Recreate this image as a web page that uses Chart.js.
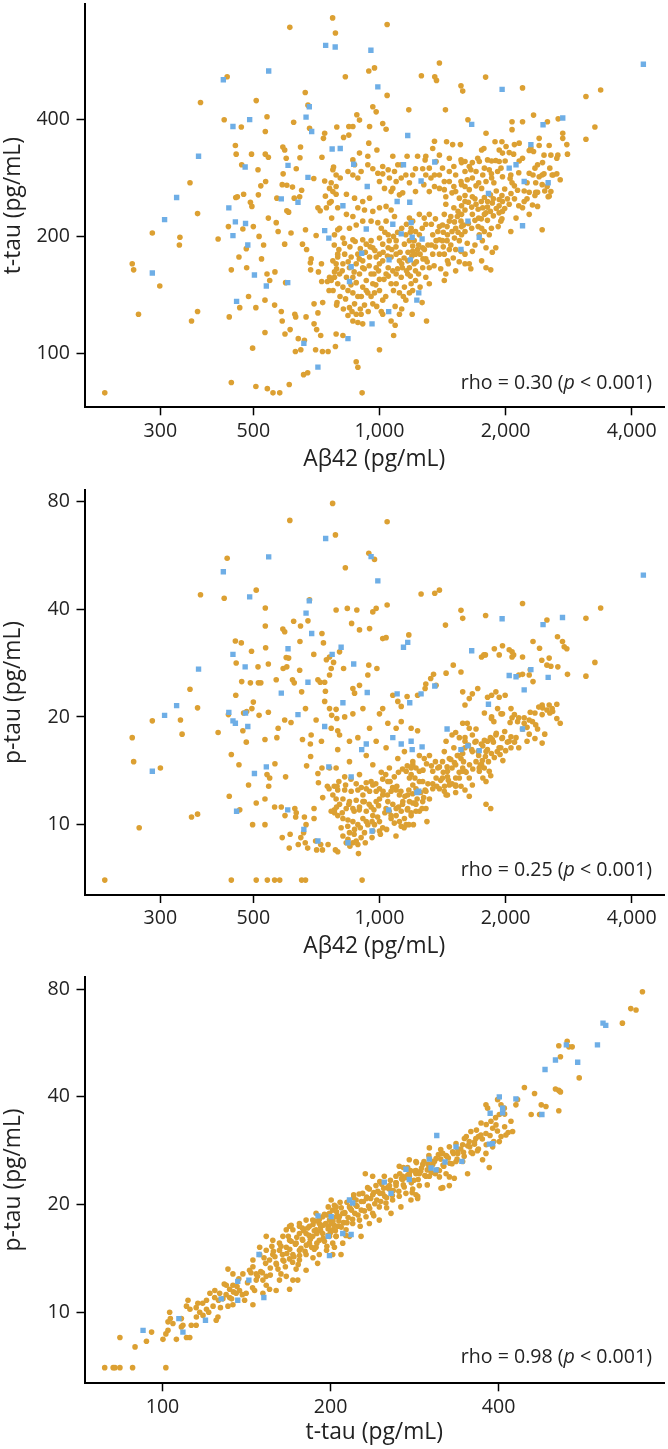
<!DOCTYPE html>
<html>
<head>
<meta charset="utf-8">
<script src="https://cdn.jsdelivr.net/npm/chart.js@4.4.1/dist/chart.umd.min.js"></script>
<style>
  html, body { margin: 0; padding: 0; background: #fff; }
  canvas { position: absolute; left: 0; display: block; }
</style>
</head>
<body>
<canvas id="c1" width="668" height="475" style="top:0"></canvas>
<canvas id="c2" width="668" height="485" style="top:475px"></canvas>
<canvas id="c3" width="668" height="489" style="top:960px"></canvas>
<script>
// tick values and labels
const abetaTicks = [300, 500, 1000, 2000, 4000];
const ttauTicks = [100, 200, 400];
const ptauTicks = [10, 20, 40, 80];
const rhoValues = ['0.30', '0.25', '0.98'];
const pText = '< 0.001';

// panel 1: Abeta42 vs t-tau  [Abeta42, t-tau]
const p1Orange = [
[221,79],[257,170],[259,164],[266,126],[287,204],[299,149],[334,199],[333,190],[353,275],[356,121],[368,229],[368,128],[374,443],[412,197],[426,400],[433,516],[436,212],[438,124],[443,164],[443,84],[453,343],[455,326],[454,252],[458,253],[462,177],[464,131],[468,383],[469,306],[472,209],[474,257],[481,186],[482,166],[487,140],[492,245],[496,239],[495,326],[498,103],[500,212],[507,82],[507,131],[508,448],[513,297],[514,256],[516,200],[521,270],[523,175],[529,190],[533,137],[533,113],[534,373],[534,326],[535,277],[539,407],[539,160],[540,81],[543,320],[543,223],[547,154],[557,79],[578,79],[562,133],[563,162],[567,217],[569,251],[573,206],[583,128],[586,121],[586,272],[588,340],[594,334],[589,290],[594,191],[595,112],[597,152],[599,318],[601,271],[601,233],[607,231],[609,83],[611,692],[612,115],[615,204],[620,268],[624,394],[626,251],[628,126],[630,101],[631,124],[633,299],[640,109],[645,253],[646,319],[648,340],[649,102],[652,263],[655,191],[659,88],[662,108],[665,470],[666,208],[668,124],[670,185],[674,89],[675,436],[681,380],[684,171],[685,164],[687,175],[697,282],[698,134],[698,119],[704,102],[706,201],[713,237],[708,115],[713,127],[715,162],[722,233],[724,111],[727,170],[728,153],[729,320],[731,101],[732,135],[735,358],[740,369],[740,278],[743,254],[747,237],[751,153],[754,101],[758,145],[760,266],[760,244],[760,157],[767,275],[769,223],[773,732],[777,302],[781,162],[785,669],[785,104],[788,257],[791,383],[792,135],[795,208],[795,177],
[1043,704],[943,534],[973,544],[829,516],[1043,462],[1390,560],[1259,519],[1355,516],[1368,505],[1792,515],[1565,489],[1580,474],[2195,483],[3110,459],[3372,477],[3267,383],[3110,356],[1175,424],[1437,424],[964,432],[982,419],[883,412],[896,399],[1018,391],[1037,378],[947,384],[845,384],[864,384],[845,365],[1626,400],[2332,411],[2517,395],[2195,395],[2072,395],[2072,377],[2670,402],[2738,369],[2738,358],[2800,345],[2810,326],[2665,324],[2565,324],[2470,324],[2405,358],[2541,343],[2405,343],[2298,338],[2332,331],[2277,333],[2195,318],[2155,313],[1960,351],[1887,351],[1796,369],[1931,334],[2040,329],[2090,326],[1753,334],[1775,337],[1446,351],[1495,345],[1560,345],[1353,352],[1340,337],[1290,322],[1285,315],[1365,312],[1233,322],[1164,322],[1106,306],[1127,306],[1076,322],[1018,290],[896,328],[864,315],[872,306],[943,348],[986,334],[938,322],[821,360],
[1570,310],[1666,310],[1716,318],[1638,303],[1600,294],[1811,315],[1852,313],[1895,314],[1931,312],[1995,313],[1914,294],[1966,285],[1852,283],[1875,275],[2058,288],[2072,275],[2099,270],[2136,263],[2215,262],[2277,260],[2360,260],[2445,288],[2583,288],[2513,269],[2541,254],[2360,275],[2445,272],[2195,237],[2318,241],[2384,239],[2215,246],
[2040,242],[1966,246],[1931,249],[1859,244],[1811,246],[1764,237],[1796,230],[1700,242],[1666,253],[1638,264],[1570,272],[1520,261],[1490,259],[1551,251],[1600,246],[1600,234],[1570,228],[1534,225],[1505,237],[1315,300],[1390,324],[1414,300],[1468,318],
[1000,277],[1028,266],[1066,261],[1116,256],[1136,259],[1219,261],[1276,272],[1315,261],[1353,269],[1390,266],[1428,264],[1440,253],
[947,251],[912,246],[872,251],[834,257],[788,269],[774,261],[767,246],[795,237],[834,228],[864,225],[888,237],[921,234],[964,232],[1000,237],[1037,239],[1066,234],[1086,225],[1037,219],[991,217],[955,219],[912,219],[880,214],[848,210],[803,210],[781,202],[818,198],[864,196],[912,196],[955,195],[1000,198],[1049,202],[1096,195],[1147,191],[1200,189],[1233,185],
[1315,228],[1279,223],[1245,228],[1200,219],[1219,206],[1245,202],[1268,187],[1290,175],[1315,166],[1340,180],[1390,180],[1428,180],[1453,173],[1468,185],[1520,185],[1565,183],[1600,180],[1638,170],[1652,165],[1796,166],[1843,164],[1666,183],[1731,202],[1796,187],[1828,202],[1779,206],[1753,210],[1725,223],[1666,228],[1587,214],[1565,219],[1520,210],[1490,206],[1453,202],[1414,195],[1365,195],[1340,202],[1378,206],[1414,214],[1468,219],[1428,228],[1440,242],[1570,202],[1551,195],
[1179,223],[1190,210],[1156,202],[1179,195],[1200,183],[1219,180],[1168,173],[1179,166],[1219,163],[1268,166],[1290,157],[1219,154],[1190,151],[1168,160],[1134,166],[1116,173],[1096,180],[1066,177],[1049,187],[1018,191],[1000,180],[1018,173],[1049,166],[1076,163],[1096,160],[1127,157],[1147,148],[1156,137],[1116,143],[1096,151],[1066,151],[1037,160],[1000,170],[982,166],[955,160],[964,151],[930,154],[912,148],[938,143],[973,143],[1000,145],[1018,137],[964,134],[921,133],[904,126],[888,120],[864,121],[841,125],[848,131],[872,134],[888,140],[864,143],[841,145],[818,148],[795,151],[781,157],[767,154],[803,160],[834,157],[864,157],[896,160],[912,166],[880,170],[848,166],[818,170],[788,170],[912,173],[947,177],[982,177],[964,187],[930,191],[888,180],[856,177],[826,180],[795,180],[774,173],
[788,112],[818,111],[880,95],[888,92],[909,79],[1000,102],[1081,111],[1295,121],[1264,135],[1197,126],[1116,126],[1066,121],[1018,126],[912,119],[880,126],[1179,143],[1315,151],[1440,160],[1428,154],[1600,170],[1520,163],[1859,182],[1895,187],[1753,173],
[1966,232],[1948,219],[2058,206],[2118,223],[2277,228],[2445,208],[2405,285],[2527,253],[2565,261],[2384,260],[2277,291],[2325,288],[2470,290],[2598,288],[2384,306],[2099,345],[2155,348],[1966,328],[2005,341],
[1731,312],[1700,294],[1764,288],[1828,297],[1796,277],[1753,266],[1725,275],[1666,283],[1652,297],[1600,312],[1565,315],[1505,303],[1468,294],[1520,288],[1565,277],[1600,269],[1505,269],[1468,277],[1428,277],[1390,288],[1353,288],[1327,283],[1290,288],[1268,299],[1219,299],[1200,288],[1179,275],[1156,288],[1127,283],[1096,277],[1076,266],[1056,283],[1086,294],[1049,297],[1018,303],[991,291],[964,299],[938,306],[904,294],[888,283],[864,288],[841,294],[806,283],[788,288],[774,297],
[780,190],[800,185],[825,192],[850,188],[875,194],[900,186],[925,182],[950,188],[975,184],[790,165],[815,163],[842,172],[870,162],[895,175],[920,165],[945,168],[970,160],[995,163],[805,140],[830,138],[855,150],[880,152],[905,140],[930,145],[955,140],[980,150],[1000,155],[820,130],[860,128],[900,130],[940,128],[985,132],[1010,128],[775,145],[790,133],
[1010,210],[1030,205],[1055,195],[1080,200],[1105,205],[1130,210],[1160,215],[1185,205],[1210,195],[1240,190],[1265,210],[1290,215],[1020,182],[1045,178],[1070,185],[1095,188],[1120,182],[1145,176],[1170,182],[1195,178],[1225,172],[1250,180],[1280,185],[1305,190],[1025,155],[1050,158],[1080,145],[1105,165],[1130,170],[1160,163],[1185,158],[1210,170],[1240,160],[1270,175],[1300,172],[1035,140],[1090,132],[1140,140],[1200,145],[1250,148],[1090,118],[1130,130],
[1330,215],[1360,222],[1390,212],[1420,205],[1450,212],[1480,225],[1510,218],[1540,232],[1570,240],[1600,255],[1630,245],[1660,238],[1690,250],[1720,235],[1750,246],[1780,252],[1810,238],[1840,256],[1870,250],[1900,262],[1930,240],[1960,255],[1990,265],[2020,250],[2060,258],[2100,250],[1330,190],[1360,188],[1390,196],[1420,188],[1450,195],[1480,190],[1510,198],[1540,205],[1570,212],[1600,206],[1630,216],[1660,210],[1690,220],[1720,212],[1750,222],[1780,228],[1810,220],[1840,232],[1870,226],[1900,236],[1930,230],[1960,222],[1990,236],[1350,168],[1400,165],[1460,170],[1500,176],[1550,172],[1620,192],[1690,190],[1760,195],[1850,210],[1920,212],
[1620,280],[1700,270],[1780,300],[1850,290],[1950,300],[2050,282],[2150,292],[2250,275],[2350,300],[2450,310],[2550,300],[2650,290],[2250,250],[2350,255],[2480,262],[2150,240],[2650,318],[2700,280]
];
const p1Blue = [
[424,507],[447,384],[490,400],[544,534],[744,622],[784,616],[370,322],[478,302],[328,252],[307,221],[287,161],[437,237],[453,218],[479,216],[447,201],[485,190],[503,159],[537,149],[456,136],[583,250],[605,305],[639,245],[675,284],[680,432],[668,406],[689,373],[771,336],[740,207],[757,198],[604,152],[660,106],[713,92],[806,337],
[954,604],[991,486],[1962,479],[4264,556],[2738,404],[2457,388],[1660,389],[1168,364],[2298,345],[2118,306],[2040,300],[2215,277],[2527,275],[1355,311],[1141,306],[1257,278],[935,269],[868,307],[818,240],[1102,246],[1181,245],[1820,258],[2195,213],[1626,219],[1730,199],[1565,185],[1076,215],[1127,203],[1190,217],[1264,197],[1197,199],[930,209],[907,181],[1185,174],[1054,174],[856,167],[848,153],[1241,143],[1228,137],[1052,128],[960,119],[841,109]
];

// panel 2: Abeta42 vs p-tau  [Abeta42, p-tau]
const p2Orange = [
[221,7],[257,17.5],[259,15],[267,9.8],[287,19.5],[300,14.4],[335,19.6],[338,17.9],[353,23.9],[356,10.5],[368,21.2],[368,10.7],[374,43.9],[412,18.1],[426,42.9],[433,55.5],[436,20.3],[438,12],[443,15.7],[443,7],[453,32.6],[455,28.3],[454,23],[462,14.7],[464,11],[468,32.2],[469,25.1],[472,18.3],[474,20.5],[481,17],[482,20.7],[487,12.9],[492,24.9],[496,21.1],[495,30.5],[498,10],[500,22],[508,7],[508,11.5],[508,45.2],[513,27.6],[514,24.9],[516,20.2],[521,24.9],[533,17.3],[533,11.8],[533,10],[534,40.3],[534,35.9],[535,31.2],[539,13.8],[547,13.5],[540,7],[562,7],[578,7],[652,7],[666,7],[543,28.1],[543,20.6],[544,12.8],[562,11.2],[563,14.8],[567,25.4],[569,17.5],[573,18.6],[583,11.2],[586,9.2],[588,35.2],[594,34.6],[589,27.3],[594,19.6],[595,10.6],[597,13.6],[599,29.3],[601,27.6],[607,29.2],[609,8.6],[611,70.8],[612,9.4],[615,19.3],[620,25.4],[624,37],[626,24.9],[628,11.1],[631,10.5],[633,10.8],[640,8.8],[645,27],[646,32.5],[648,35.9],[649,9.2],[652,23.5],[655,17.3],[659,9.5],[662,10.5],[665,8.9],[666,21.1],[668,10],[670,14.6],[674,8.6],[675,37.1],[681,42.5],[684,16.8],[685,15.5],[687,17.8],[697,29.9],[698,11.1],[698,10.4],[704,9],[706,19.6],[713,25.4],[708,8.5],[713,13.9],[715,13.1],[722,25],[724,8.8],[727,17.1],[729,14.4],[729,34.2],[731,8.5],[732,11.9],[735,32.2],[740,22.1],[740,25],[743,23.6],[747,28.9],[751,12.8],[754,8.8],[758,12.6],[760,26.2],[760,21.1],[760,14.4],[767,27.3],[769,20.2],[773,79],[777,28.4],[781,10.8],[785,64.5],[785,8.5],[788,39.8],[791,19.8],[792,12.8],[795,18.3],[795,16.2],
[1043,70.2],[943,57.3],[973,55.1],[829,52.2],[1043,41.1],[1390,45.2],[1355,44.3],[1257,44.1],[1792,38.4],[1565,39.7],[1580,37.7],[2195,41.5],[3110,37.7],[3372,40.3],[3267,28.4],[3110,26.0],[1175,33.9],[1437,36.1],[964,39.3],[982,40.2],[883,39.8],[838,40.2],[1018,33.1],[1037,33.3],[947,35.3],[896,35.0],[858,36.5],[803,30.4],[760,29.4],[2325,32.5],[2510,37.3],[2195,29.4],[2072,30.4],[2072,29.4],[2660,33.5],[2734,32.5],[2760,31.4],[2800,31.0],[2810,26.3],[2665,27.6],[2565,27.7],[2510,27.9],[2440,28.8],[2541,29.2],[2410,31.1],[2290,27.1],[2325,25.1],[2277,26.2],[2195,26.3],[2150,26.2],[2445,21.6],[2541,21.6],[2590,20.7],[2510,20.9],[2400,21.3],[2290,20.6],[1966,31.6],[1880,31.0],[1790,29.8],[1931,29.8],[2040,30.8],[2090,29.8],[1752,29.4],[1775,29.8],[1442,26.5],[1500,27.9],[1565,26.7],[1346,26.3],[1325,25.6],[1290,24.7],[1285,24.0],[1365,24.5],[1233,23.0],[1164,22.8],[1106,22.1],[1127,21.4],[1076,23.0],[1018,21.1],[896,24.5],[864,24.0],[872,23.3],[943,27.9],[986,27.3],[938,26.2],[821,27.3],
[1580,23.5],[1666,23.2],[1716,24.0],[1638,22.5],[1600,21.6],[1811,22.7],[1852,23.0],[1896,23.5],[1931,22.7],[1995,23.0],[1914,21.1],[1966,20.4],[1852,20.0],[1875,19.4],[2060,21.1],[2072,19.9],[2099,20.3],[2136,19.4],[2215,19.2],[2277,19.6],[2360,19.0],[2445,20.3],[2583,21.1],[2195,18.5],[2318,19.4],[2384,18.5],[2215,19.9],
[2040,17.1],[1966,17.5],[1896,17.8],[1859,17.3],[1811,17.1],[1764,16.6],[1796,16.0],[1700,17.1],[1666,17.8],[1638,18.6],[1580,19.2],[1520,18.1],[1490,17.8],[1551,17.5],[1600,17.1],[1600,16.4],[1580,15.8],[1534,15.6],[1505,16.4],
[1442,17.1],[1428,16.0],[1468,15.3],[1414,15.0],[1378,14.4],[1340,14.1],[1365,13.5],[1414,13.5],[1453,14.1],[1490,14.4],[1520,14.7],[1565,15.3],[1587,15.0],[1666,16.0],[1725,15.6],[1753,14.7],[1779,14.4],[1828,14.1],[1796,13.2],[1731,14.1],[1580,14.1],[1551,13.5],[1520,12.9],[1565,12.8],[1600,12.5],[1638,12.0],[1796,11.4],[1843,11.1],[1666,12.9],
[1316,15.6],[1279,15.3],[1245,15.6],[1201,15.0],[1222,14.4],[1245,14.1],[1268,13.2],[1291,12.4],[1316,11.8],[1340,12.6],[1390,12.6],[1428,12.4],[1453,12.1],[1468,12.9],[1520,12.8],[1201,14.7],[1190,14.4],[1158,14.1],[1179,13.5],[1201,12.9],[1222,12.6],[1168,12.1],[1179,11.6],[1222,11.4],[1268,11.6],[1291,11.1],[1222,10.9],[1190,10.6],[1168,11.1],[1137,11.6],[1116,12.1],[1096,12.5],[1066,12.4],[1047,13.2],[1018,13.4],[1000,12.6],[1018,12.1],[1047,11.6],[1076,11.4],[1096,11.1],[1127,10.9],[1147,10.4],[1158,10.0],[1116,10.2],[1096,10.6],[1066,10.6],[1037,11.1],[1000,11.8],[982,11.6],[955,11.2],[964,10.6],[930,10.9],[913,10.4],[938,10.0],[973,10.0],[1000,10.2],[1018,9.8],[964,9.6],[921,9.5],[904,9.2],[888,8.8],[864,8.9],[841,9.1],[848,9.5],[872,9.7],[888,10.0],[864,10.2],[841,10.3],[818,10.4],[795,10.6],[781,11.0],[767,10.9],[803,11.4],[833,11.1],[864,11.1],[896,11.2],[913,11.6],[880,11.7],[848,11.6],[818,11.8],[788,11.8],[913,12.1],[947,12.4],[982,12.4],[964,12.9],[930,13.1],[888,12.5],[856,12.4],[826,12.5],[795,12.5],[774,12.1],
[788,21.0],[826,20.0],[864,20.4],[913,21.1],[1000,20.4],[1047,19.2],[1096,18.6],[1127,19.4],[1190,18.6],[1233,18.3],[947,18.6],[888,17.5],[848,17.1],[803,17.8],[767,18.6],[982,17.1],[1037,16.4],[930,15.6],[848,15.0],[788,14.4],[1056,14.4],[964,14.7],[896,13.8],[826,13.6],[1106,15.3],[1147,16.0],
[795,8.4],[818,9.3],[833,8.9],[891,8.3],[909,7.0],[1000,9.6],[1127,9.9],[1175,10.0],[1298,10.2],[1264,11.1],[1201,11.5],[1066,10.4],[1442,12.1],[1520,12.3],[1453,13.6],[1765,13.5],[1843,13.7],[1638,13.5],[1600,14.1],[1740,14.7],
[2060,16.4],[2277,17.9],[2445,16.9],[1948,16.4],[2118,17.5],
[780,12.8],[800,13.2],[830,12.9],[855,13.4],[880,13.0],[905,12.7],[930,12.6],[955,13.2],[980,13.0],[790,11.2],[815,10.8],[845,11.4],[870,10.9],[895,11.0],[920,11.6],[945,11.4],[970,11.0],[995,11.3],[810,9.8],[840,9.9],[870,9.4],[900,9.8],[930,10.2],[960,10.2],[990,10.5],[850,8.7],[880,9.0],[925,8.9],[960,9.2],[1005,9.4],
[1010,14.0],[1035,13.8],[1060,13.2],[1085,13.6],[1110,14.0],[1135,14.3],[1165,14.6],[1190,13.8],[1215,13.5],[1245,13.2],[1270,14.2],[1295,14.8],[1020,12.4],[1045,12.1],[1075,12.7],[1100,12.8],[1125,12.4],[1150,12.0],[1175,12.5],[1200,12.2],[1230,11.8],[1255,12.3],[1285,12.5],[1305,13.0],[1030,10.8],[1055,10.9],[1085,10.1],[1110,11.2],[1135,11.4],[1165,11.0],[1190,10.8],[1215,11.5],[1245,10.9],[1275,11.9],[1040,9.7],[1095,9.3],[1145,9.8],[1205,10.0],
[1330,14.6],[1360,15.0],[1390,14.5],[1420,14.0],[1450,14.5],[1480,15.2],[1510,14.9],[1540,15.6],[1570,16.2],[1600,17.5],[1630,16.7],[1660,16.2],[1690,17.0],[1720,16.0],[1750,16.8],[1780,17.2],[1810,16.2],[1840,17.5],[1870,17.0],[1900,18.0],[1930,16.4],[1960,17.4],[1990,18.2],[2020,17.0],[2060,17.6],[2100,17.0],[1340,13.0],[1370,12.8],[1400,13.3],[1430,12.8],[1460,13.3],[1490,13.0],[1520,13.5],[1550,14.0],[1580,14.4],[1610,14.0],[1640,14.7],[1670,14.3],[1700,15.0],[1730,14.4],[1760,15.1],[1790,15.5],[1820,15.0],[1850,15.8],[1880,15.4],[1910,16.0],[1940,15.7],[1970,15.1],[2000,16.1],
[1620,19.2],[1700,18.5],[1780,20.5],[1850,19.8],[1950,20.4],[2050,19.3],[2150,19.9],[2250,18.7],[2350,20.5],[2450,21.2],[2550,20.5],[2650,19.8],[2250,17.1],[2350,17.4],[2480,17.9],[2150,16.4],[2650,21.7],[2700,19.2]
];
const p2Blue = [
[424,50.9],[447,29.9],[490,43.3],[544,56.0],[744,63.0],[370,27.2],[478,27.6],[328,21.5],[307,20.2],[287,14.1],[437,20.6],[453,19.2],[479,20.5],[447,19.5],[485,18.8],[503,13.9],[537,14.5],[456,10.9],[583,23.3],[605,31.0],[639,20.3],[675,25.0],[680,42.2],[668,39.0],[689,34.2],[771,29.9],[740,18.8],[757,14.5],[604,11.0],[660,9.7],[713,9.0],[810,31.3],
[955,56.1],[991,48.0],[1962,37.6],[4264,49.8],[2734,37.9],[2457,36.2],[1660,30.6],[1141,31.3],[1168,32.3],[2298,27.1],[2118,25.9],[2040,26.1],[2215,23.8],[2527,25.8],[1355,24.4],[1257,23.2],[1181,21.9],[1102,23.2],[935,23.4],[868,28.1],[818,21.9],[1820,21.7],[2195,18.5],[1450,18.5],[1730,16.1],[1626,16.6],[1565,16.2],[1076,17.5],[1127,16.8],[1190,17.1],[1264,16.5],[1197,16.2],[930,16.8],[907,16.2],[856,13.6],[1241,12.4],[1228,12.3],[1052,11.0],[960,9.6],[841,8.9]
];

// panel 3: t-tau vs p-tau  [t-tau, p-tau]
const p3Orange = [
[78.8,7],[81.6,7],[82.2,7],[83.9,7],[88.4,7],[101.4,7],[83.9,8.5],[89.3,8.0],[93.6,8.3],[95.6,8.8],
[100.2,8.4],[101.4,8.7],[102.3,8.9],[105.9,8.4],[108.1,9.1],[110.4,8.5],[111.9,8.5],[102.3,9.4],[104.4,9.3],[108.1,9.6],[103.0,10.0],[103.3,9.6],
[108.8,9.2],[112.6,9.2],[114.9,9.2],[116.6,10.0],[119.9,10.2],[123.2,10.4],[115.7,10.6],[111.1,10.8],[110.4,10.4],[114.9,10.3],[118.2,9.8],
[124.8,9.5],[125.7,9.7],[119.9,10.8],[121.6,11.3],[124.1,11.5],[126.6,11.3],[128.3,10.9],[131.0,10.4],[133.7,10.5],[131.9,11.0],[135.5,11.3],[137.4,11.5],[141.2,11.3],[145.2,10.5],[140.3,10.8],[133.7,11.9],[131.9,11.6],[130.1,11.9],
[131.0,13.2],[133.7,12.8],[139.3,12.8],[143.2,13.1],[147.2,12.8],[151.3,12.3],[153.4,11.9],[146.2,11.5],[151.3,11.3],[155.5,11.6],[159.8,11.5],[162.0,12.3],[166.6,12.6],[168.9,11.6],[171.2,12.3],[174.7,12.3],[153.4,12.6],[147.2,12.3],
[145.2,14.0],[149.3,14.5],[153.4,14.9],[157.6,14.5],[162.0,14.9],[155.5,14.0],[159.8,13.7],[164.3,14.0],[168.9,14.1],[171.2,14.5],[175.9,14.9],[180.8,14.5],[175.9,14.0],[166.6,15.2],[162.0,15.6],[157.6,15.9],[153.4,16.3],[149.3,15.2],[145.2,13.4],
[164.3,16.3],[168.9,15.9],[173.5,15.6],[178.3,15.9],[183.3,15.6],[188.4,15.2],[190.9,15.9],[185.8,16.3],[180.8,16.6],[175.9,16.6],[171.2,17.0],[166.6,17.0],[168.9,17.4],[175.9,17.4],[183.3,17.4],[188.4,17.0],[193.6,16.6],[199.1,16.3],[201.8,17.0],[198.1,17.4],[190.9,17.7],[185.8,18.1],[180.8,18.1],[175.9,17.7],[170.0,17.5],[188.4,18.9],[193.6,18.5],[199.1,18.1],[204.6,18.5],[201.8,19.3],[198.1,19.7],[203.2,19.9],[199.1,18.9],[206.0,17.4],[204.6,16.3],[201.8,15.6],[196.7,14.9],[190.9,14.5],[189.6,13.7],[180.8,13.1],[173.5,13.2],
[150,13.0],[152,14.2],[156,13.3],[158,14.8],[160,13.6],[163,15.3],[165,13.9],[167,14.6],[170,15.8],[172,14.3],[174,16.2],[177,15.1],[179,16.9],[181,15.4],[182,17.2],[184,16.0],[186,17.6],[187,15.0],[189,16.6],[191,18.2],[192,16.9],[194,17.5],[195,15.8],[197,18.7],[198,17.1],[200,16.7],[202,18.0],[203,17.5],[205,19.1],[207,18.0],[209,19.6],[211,17.8],[212,19.0],[214,20.3],[215,18.4],[218,19.3],[220,20.9],[221,18.9],[223,19.8],[225,21.4],[227,19.3],[229,20.4],[232,21.0],[234,19.8],[236,20.8],[239,21.6],[242,20.6],[245,21.5],[247,22.8],[250,21.1],[253,22.3],[256,23.4],[259,21.9],[262,22.6],[266,24.4],[270,22.7],[273,23.8],[278,24.9],[282,23.4],[290,24.8],[294,26.4],[298,25.0],[305,26.4],[308,24.4],[312,27.6],[318,25.8],[325,27.0],[330,26.0],[338,27.8],[346,28.0],[355,29.0],[362,29.5],[368,31.0],
[200.5,20.6],[204.6,19.7],[210.3,18.9],[216.2,19.7],[222.2,20.6],[228.3,21.5],[234.7,22.1],[241.2,22.6],[247.9,21.5],[254.8,22.1],[261.9,23.0],[269.2,23.5],[276.7,24.0],[284.4,24.4],[207.4,17.4],[213.2,17.0],[219.1,17.7],[225.3,18.1],[231.5,18.5],[237.9,18.9],[244.5,19.7],[251.3,20.2],[258.3,20.6],[265.5,21.1],[272.9,21.5],[280.6,22.1],[288.4,22.6],[204.6,16.3],[210.3,15.6],[201.8,14.5],[208.8,14.5],[216.2,16.3],[226.8,16.3],[234.7,17.7],[244.5,18.1],[256.6,18.9],[267.3,19.7],[278.6,20.6],[286.4,21.1],[207.4,18.5],[200.5,17.7],[203.2,15.2],
[288.4,24.4],[296.5,24.0],[300.6,25.4],[304.8,25.9],[313.3,24.9],[322.0,27.4],[330.9,28.1],[337.8,28.6],[344.8,29.4],[354.3,30.0],[364.1,30.6],[371.8,31.3],[379.6,31.6],[390.2,32.7],[395.6,33.4],[387.5,34.2],[401.1,35.7],[309.0,26.9],[317.6,27.8],[326.4,29.0],[335.5,29.6],[300.6,26.9],[292.5,25.9],[284.4,24.9],[276.7,24.4],[269.2,24.0],[261.9,24.0],[274.8,25.4],[284.4,26.4],[300.6,24.0],[313.3,23.9],[322.0,24.4],[326.4,23.9],[333.1,23.7],[317.6,22.3],[284.4,21.3],[286.4,20.8],[351.9,24.4],[344.8,26.4],[335.5,26.4],[359.2,27.8],[374.3,26.7],[384.8,25.4],[366.5,28.3],[379.6,27.8],[390.2,29.0],[401.1,30.0],[412.2,31.3],[423.7,32.0],[420.8,34.2],[409.4,37.2],[403.9,38.0],[398.3,39.3],[379.6,38.0],[382.2,37.2],[429.5,38.0],[432.4,39.3],[444.8,42.5],[457.4,35.7],[473.5,35.7],[476.8,38.0],[463.8,40.9],[486.1,37.6],[512.6,36.6],[505.6,42.1],[512.6,41.7],[516.1,41.3],[534.3,55.2],[530.6,57.2],[512.6,55.6],[516.1,51.8],[541.7,55.2],[557.6,45.2],[689.7,70.6],[704.8,70.0],[723.7,78.7],[666.3,64.3],
[372.0,33.8],[356.7,32.0],[347.3,30.6],[300.6,28.8],[276.7,26.7],[265.5,25.6],[249.6,24.0],[237.9,24.0],[230.8,24.4],[326.4,22.6],[315.4,22.2],
[112,10.2],[115,9.7],[118,10.6],[121,10.0],[124,11.0],[127,10.3],[130,11.2],[133,10.9],[136,11.8],[139,11.2],[142,12.1],[145,11.7],[148,12.6],[129,12.0],[137,12.4],[144,12.9],[126,10.8],[134,11.4],
[151,12.9],[153,13.7],[156,12.7],[159,14.3],[161,13.2],[164,14.5],[166,13.4],[169,15.0],[171,13.8],[173,15.5],[176,14.4],[178,16.0],[180,14.8],[183,16.4],[185,15.2],[187,16.9],[189,15.6],[192,17.3],[194,16.1],[196,17.7],[198,16.4],[157,15.3],[168,16.3],[178,17.2],[188,18.0],[195,18.8],[163,12.8],[175,13.6],[186,14.2],[197,15.3],
[201,17.8],[204,16.9],[206,18.6],[209,17.3],[212,18.9],[214,17.8],[217,19.5],[219,18.2],[222,19.9],[224,18.7],[227,20.4],[230,19.2],[232,20.8],[235,19.5],[238,21.3],[240,20.1],[243,21.8],[246,20.4],[249,22.2],[252,20.9],[255,22.6],[258,21.2],[208,20.3],[220,21.3],[233,22.3],[245,23.2],[213,16.4],[226,17.4],[239,18.6],[252,19.6],
[262,23.0],[265,21.8],[268,23.6],[271,22.4],[275,24.2],[279,23.0],[283,24.8],[287,23.5],[291,25.3],[295,24.1],[299,25.9],[303,24.6],[307,26.4],[311,25.0],[315,26.8],[319,25.6],[323,27.3],[327,26.1],[270,25.4],[285,26.2],[300,27.4],[315,28.5],[280,21.6],[298,22.7],
[332,27.8],[337,26.8],[342,28.6],[347,27.3],[352,29.2],[357,28.0],[362,29.9],[368,28.6],[374,30.5],[380,29.4],[386,31.2],[392,30.0],[398,32.1],[404,31.0],[410,33.0],[416,31.8],[350,31.0],[365,32.3],[380,33.5],[395,35.0],[410,35.8]
];
const p3Blue = [
[92.3,8.9],[107.0,9.6],[108.8,8.8],[119.4,9.5],[127.4,10.9],[136.4,12.2],[136.4,10.8],[142.8,12.3],[148.9,14.5],[151.9,11.0],[189.9,18.6],[198.1,16.3],[199.1,14.4],
[216.2,20.6],[219.1,20.2],[210.3,16.6],[217.7,16.5],[200.5,18.5],[249.6,23.1],[256.6,21.5],[276.7,23.5],[272.9,25.1],[300.6,26.8],[302.7,25.3],[309.0,25.0],[320.6,26.3],[309.9,31.2],[335.5,29.0],[343.7,26.4],[385.0,29.5],[390.2,29.6],[386.2,36.0],[406.6,37.2],[406.6,36.1],[401.1,40.0],[429.5,39.5],[478.1,35.7],[484.3,47.7],[505.6,50.7],[528.8,55.9],[554.1,50.0],[601.2,55.9],[615.1,64.3],[622.1,63.4]
];

const ORANGE = '#dca032';
const BLUE = '#6eaee6';
const TEXT = '#222';
const FONT = "'Open Sans', 'Noto Sans', sans-serif";

const toPts = arr => arr.map(d => ({ x: d[0], y: d[1] }));

// rho annotation in the lower right corner, with an italic p
const rhoPlugin = {
  id: 'rho',
  afterDraw(chart, args, opts) {
    const ctx = chart.ctx;
    ctx.save();
    const parts = [
      ['rho = ' + opts.value + ' (', 'normal'],
      ['p', 'italic'],
      [' ' + pText + ')', 'normal']
    ];
    let w = 0;
    parts.forEach(p => { ctx.font = p[1] + ' 19.6px ' + FONT; w += ctx.measureText(p[0]).width; });
    let x = opts.right - w;
    ctx.fillStyle = TEXT;
    ctx.textBaseline = 'middle';
    ctx.textAlign = 'left';
    parts.forEach(p => {
      ctx.font = p[1] + ' 19.6px ' + FONT;
      ctx.fillText(p[0], x, opts.y);
      x += ctx.measureText(p[0]).width;
    });
    ctx.restore();
  }
};

function logAxis(min, max, ticks, title, size, horizontal, titlePad) {
  return {
    type: 'logarithmic',
    min: min,
    max: max,
    bounds: 'data',
    afterBuildTicks: s => { s.ticks = ticks.map(v => ({ value: v })); },
    afterFit: s => {
      if (horizontal) { s.height = size; s.paddingLeft = 0; s.paddingRight = 0; }
      else { s.width = size; s.paddingTop = 0; s.paddingBottom = 0; }
    },
    ticks: {
      autoSkip: false,
      maxRotation: 0,
      padding: horizontal ? 4 : 6.5,
      color: TEXT,
      font: { family: FONT, size: 19.6 },
      callback: v => Number(v).toLocaleString('en-US')
    },
    grid: { drawOnChartArea: false, drawTicks: true, tickLength: 8, tickWidth: 1.5, color: '#000' },
    border: { display: true, color: '#000', width: 2 },
    title: {
      display: true,
      text: title,
      color: TEXT,
      font: { family: FONT, size: 22.8 },
      padding: horizontal ? { top: 0, bottom: titlePad } : { top: titlePad, bottom: 0 }
    }
  };
}

function makePanel(id, cfg) {
  return new Chart(document.getElementById(id), {
    type: 'scatter',
    data: {
      datasets: [
        { data: toPts(cfg.blue), pointStyle: 'rect', pointRadius: 3.8, backgroundColor: BLUE, borderWidth: 0 },
        { data: toPts(cfg.orange), pointStyle: 'circle', pointRadius: 2.8, backgroundColor: ORANGE, borderWidth: 0 }
      ]
    },
    options: {
      responsive: false,
      animation: false,
      events: [],
      layout: { padding: { top: cfg.top, right: 3, left: 0, bottom: 0 } },
      plugins: {
        legend: { display: false },
        tooltip: { enabled: false },
        rho: { value: cfg.rho, right: 652, y: cfg.rhoY }
      },
      scales: {
        x: cfg.x,
        y: cfg.y
      }
    },
    plugins: [rhoPlugin]
  });
}

makePanel('c1', {
  orange: p1Orange, blue: p1Blue, top: 2, rho: rhoValues[0], rhoY: 383,
  x: logAxis(197.7, 4776, abetaTicks, 'Aβ42 (pg/mL)', 67.7, true, 1.8),
  y: logAxis(72.5, 795, ttauTicks, 't-tau (pg/mL)', 84.5, false, 0)
});
makePanel('c2', {
  orange: p2Orange, blue: p2Blue, top: 15, rho: rhoValues[1], rhoY: 395,
  x: logAxis(197.7, 4776, abetaTicks, 'Aβ42 (pg/mL)', 65, true, 0.2),
  y: logAxis(6.36, 86.1, ptauTicks, 'p-tau (pg/mL)', 84.5, false, 0)
});
makePanel('c3', {
  orange: p3Orange, blue: p3Blue, top: 16.7, rho: rhoValues[2], rhoY: 397.3,
  x: logAxis(72.5, 791, ttauTicks, 't-tau (pg/mL)', 65.7, true, 2.8),
  y: logAxis(6.33, 86.7, ptauTicks, 'p-tau (pg/mL)', 84.5, false, 0)
});
</script>
</body>
</html>
